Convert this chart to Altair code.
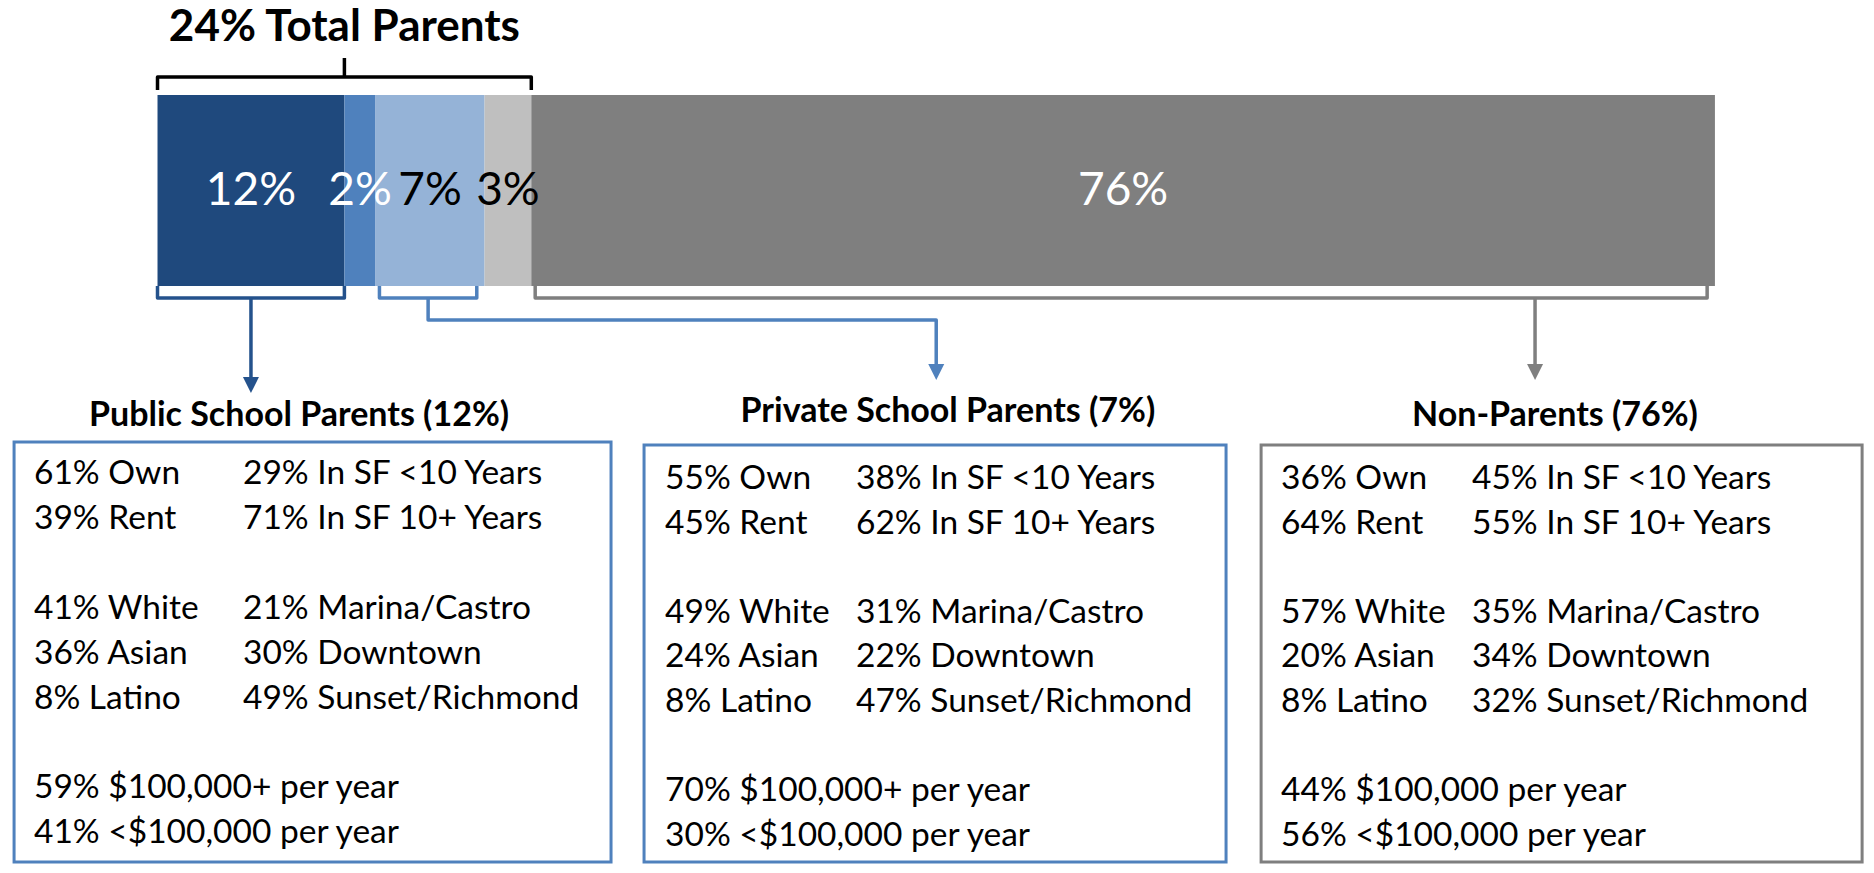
import altair as alt
import pandas as pd

# ---------------- data ----------------
segment_names = ["Public school parents", "Other school parents", "Private school parents",
                 "Other parents", "Non-parents"]
segment_values = [12, 2, 7, 3, 76]
segment_fills = ["#1F497D", "#4F81BD", "#95B3D7", "#BFBFBF", "#7F7F7F"]
segment_label_colors = ["white", "white", "black", "black", "white"]
n_parent_segments = 4

groups = ["Public School Parents", "Private School Parents", "Non-Parents"]
group_share = [12, 7, 76]
group_segment = [0, 2, 4]
group_colors = ["#24528C", "#4F81BD", "#7F7F7F"]
box_colors = ["#4F81BD", "#4F81BD", "#7F7F7F"]

public_col1 = ["61% Own", "39% Rent", "", "41% White", "36% Asian", "8% Latino", "",
               "59% $100,000+ per year", "41% <$100,000 per year"]
public_col2 = ["29% In SF <10 Years", "71% In SF 10+ Years", "", "21% Marina/Castro",
               "30% Downtown", "49% Sunset/Richmond", "", "", ""]
private_col1 = ["55% Own", "45% Rent", "", "49% White", "24% Asian", "8% Latino", "",
                "70% $100,000+ per year", "30% <$100,000 per year"]
private_col2 = ["38% In SF <10 Years", "62% In SF 10+ Years", "", "31% Marina/Castro",
                "22% Downtown", "47% Sunset/Richmond", "", "", ""]
non_col1 = ["36% Own", "64% Rent", "", "57% White", "20% Asian", "8% Latino", "",
            "44% $100,000 per year", "56% <$100,000 per year"]
non_col2 = ["45% In SF <10 Years", "55% In SF 10+ Years", "", "35% Marina/Castro",
            "34% Downtown", "32% Sunset/Richmond", "", "", ""]
group_col1 = [public_col1, private_col1, non_col1]
group_col2 = [public_col2, private_col2, non_col2]

# ---------------- layout (x in percent-of-bar units, y in layout rows) ----------------
X_DOMAIN = [-9.6, 109.7]
Y_DOMAIN = [8, 865]
W, H = 1858, 857
BAR_TOP, BAR_BOTTOM = 95, 286
BRACKET_Y = 298
TOP_BRACKET_Y, TOP_BRACKET_END, TOP_STEM_Y = 77, 90, 58
TITLE_Y = 41
arrow_tip_y = [393, 380, 380]
arrow_x = [None, 50.0, 88.45]
elbow_y = [None, 320, None]
box_x0 = [-9.21, 31.24, 70.86]
box_x1 = [29.12, 68.61, 109.45]
box_y0 = [442, 445, 445]
box_y1 = [862, 862, 862]
header_x = [9.09, 50.75, 89.73]
header_y = [416, 412, 416]
col1_x = [-7.93, 32.59, 72.14]
col2_x = [5.49, 44.85, 84.40]
row0_y = [474, 479, 479]
row_step = [44.9, 44.6, 44.6]

FONT = "Lato"

# ---------------- derived tables ----------------
starts, ends = [], []
acc = 0
for v in segment_values:
    starts.append(acc)
    acc += v
    ends.append(acc)
seg_df = pd.DataFrame({
    "name": segment_names, "value": segment_values,
    "start": starts, "end": ends,
    "mid": [(s + e) / 2 for s, e in zip(starts, ends)],
    "label": [f"{v}%" for v in segment_values],
    "fill": segment_fills, "tcolor": segment_label_colors,
    "y0": BAR_TOP, "y1": BAR_BOTTOM, "ym": (BAR_TOP + BAR_BOTTOM) / 2,
})

parent_total = sum(segment_values[:n_parent_segments])
parent_end = ends[n_parent_segments - 1]

lines = []
def add_path(pid, pts, color):
    for i, (x, y) in enumerate(pts):
        lines.append({"pid": pid, "seq": i, "x": x, "y": y, "color": color})

add_path("top", [(0, TOP_BRACKET_END), (0, TOP_BRACKET_Y), (parent_end, TOP_BRACKET_Y),
                 (parent_end, TOP_BRACKET_END)], "black")
add_path("top_stem", [(parent_end / 2, TOP_BRACKET_Y), (parent_end / 2, TOP_STEM_Y)], "black")

heads = []
for g in range(len(groups)):
    si = group_segment[g]
    x0 = starts[si] + (0.0 if si == 0 else 0.25)
    x1 = ends[si] - (0.0 if si == 0 else 0.5)
    col = group_colors[g]
    add_path(f"br{g}", [(x0, BAR_BOTTOM), (x0, BRACKET_Y), (x1, BRACKET_Y), (x1, BAR_BOTTOM)], col)
    ax = arrow_x[g] if arrow_x[g] is not None else (x0 + x1) / 2
    stem_x = (x0 + x1) / 2 if elbow_y[g] is not None else ax
    tip = arrow_tip_y[g]
    if elbow_y[g] is not None:
        pts = [(stem_x, BRACKET_Y), (stem_x, elbow_y[g]), (ax, elbow_y[g]), (ax, tip - 10)]
    else:
        pts = [(ax, BRACKET_Y), (ax, tip - 10)]
    add_path(f"stem{g}", pts, col)
    heads.append({"x": ax, "y": tip - 8, "color": col})

lines_df = pd.DataFrame(lines)
heads_df = pd.DataFrame(heads)

boxes_df = pd.DataFrame({"x0": box_x0, "x1": box_x1, "y0": box_y0, "y1": box_y1,
                         "color": box_colors})
headers_df = pd.DataFrame({"x": header_x, "y": header_y,
                           "text": [f"{n} ({s}%)" for n, s in zip(groups, group_share)]})
rows = []
for g in range(len(groups)):
    for i, (a, b) in enumerate(zip(group_col1[g], group_col2[g])):
        y = row0_y[g] + i * row_step[g]
        if a:
            rows.append({"x": col1_x[g], "y": y, "text": a})
        if b:
            rows.append({"x": col2_x[g], "y": y, "text": b})
rows_df = pd.DataFrame(rows)
title_df = pd.DataFrame({"x": [parent_end / 2], "y": [TITLE_Y],
                         "text": [f"{parent_total}% Total Parents"]})

xs = alt.Scale(domain=X_DOMAIN, nice=False, zero=False)
ys = alt.Scale(domain=Y_DOMAIN, nice=False, zero=False, reverse=True)

def X(f="x"):
    return alt.X(f"{f}:Q", scale=xs, axis=None)

def Y(f="y"):
    return alt.Y(f"{f}:Q", scale=ys, axis=None)

bars = alt.Chart(seg_df).mark_rect().encode(
    x=X("start"), x2="end", y=Y("y0"), y2="y1",
    fill=alt.Fill("fill:N", scale=None))

bar_labels = alt.Chart(seg_df).mark_text(font=FONT, fontSize=46, baseline="middle",
                                         align="center").encode(
    x=X("mid"), y=Y("ym"), text="label:N", color=alt.Color("tcolor:N", scale=None))

line_layer = alt.Chart(lines_df).mark_line(strokeWidth=3.5, strokeJoin="round",
                                           strokeCap="butt").encode(
    x=X(), y=Y(), detail="pid:N", order="seq:Q",
    color=alt.Color("color:N", scale=None))

head_layer = alt.Chart(heads_df).mark_point(shape="M -1 -1 L 1 -1 L 0 1 Z", filled=True,
                                            opacity=1, size=256).encode(
    x=X(), y=Y(), color=alt.Color("color:N", scale=None))

box_layer = alt.Chart(boxes_df).mark_rect(fill="white", fillOpacity=0, strokeWidth=3).encode(
    x=X("x0"), x2="x1", y=Y("y0"), y2="y1",
    stroke=alt.Stroke("color:N", scale=None))

header_layer = alt.Chart(headers_df).mark_text(font=FONT, fontWeight="bold", fontSize=34,
                                               align="center", baseline="middle",
                                               color="black").encode(
    x=X(), y=Y(), text="text:N")

row_layer = alt.Chart(rows_df).mark_text(font=FONT, fontSize=33.5, align="left",
                                         baseline="middle", color="black").encode(
    x=X(), y=Y(), text="text:N")

title_layer = alt.Chart(title_df).mark_text(font=FONT, fontWeight="bold", fontSize=44,
                                            align="center", baseline="alphabetic",
                                            color="black").encode(
    x=X(), y=Y(), text="text:N")

chart = alt.layer(
    bars, bar_labels, line_layer, head_layer, box_layer, header_layer, row_layer, title_layer
).properties(
    width=W, height=H, padding=0, autosize=alt.AutoSizeParams(type="none")
).configure_view(stroke=None)

chart.save("out.html", embed_options={"renderer": "svg", "actions": False})
